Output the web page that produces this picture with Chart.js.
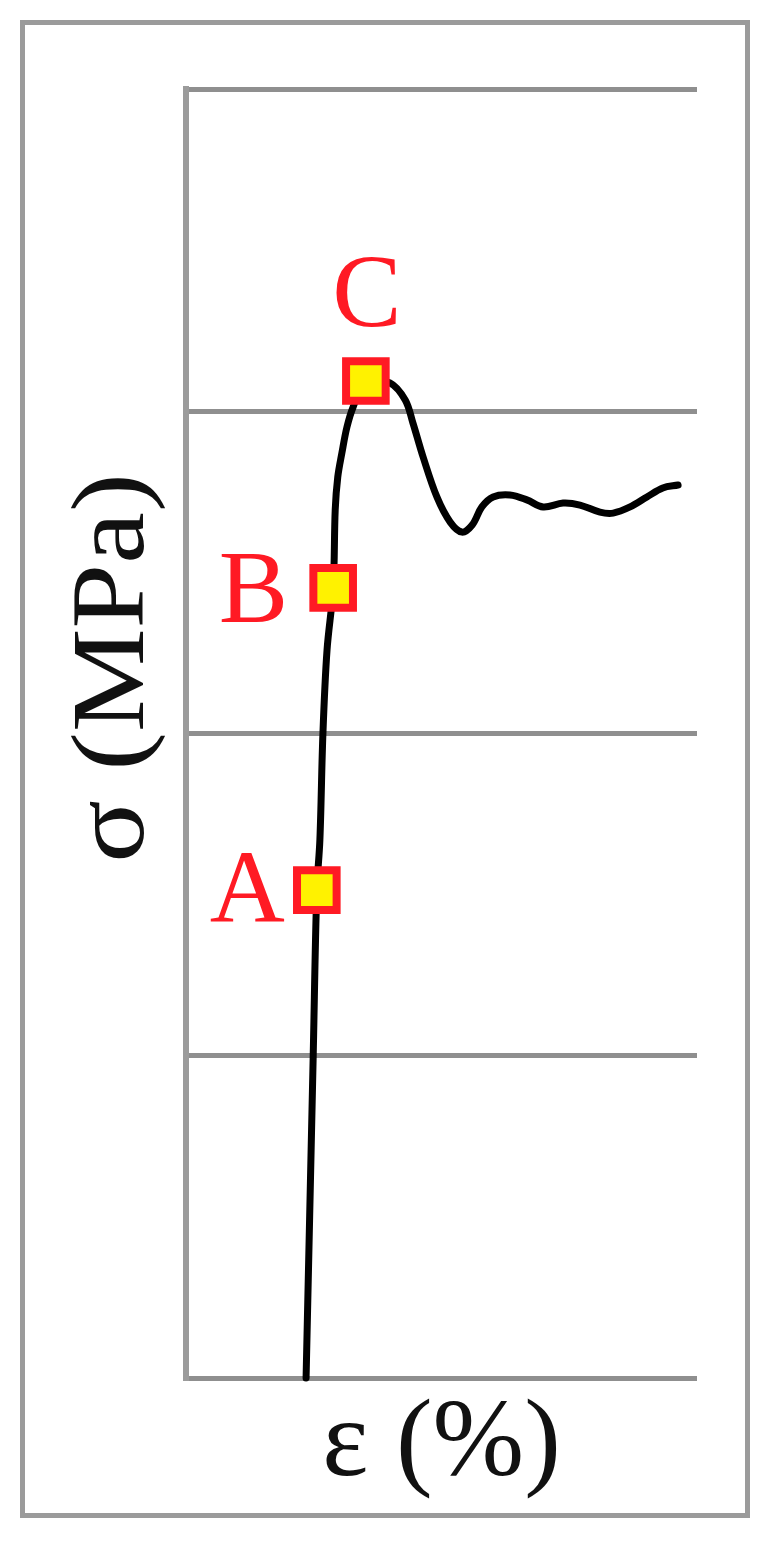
<!DOCTYPE html>
<html>
<head>
<meta charset="utf-8">
<title>Stress-strain curve</title>
<script src="https://cdn.jsdelivr.net/npm/chart.js@4/dist/chart.umd.min.js"></script>
<style>
  body { margin: 0; background: #ffffff; }
  #wrap { position: relative; width: 772px; height: 1550px; }
  #frame {
    position: absolute; left: 20px; top: 20px; width: 730px; height: 1498px;
    box-sizing: border-box; border: 5px solid #9b9b9b;
  }
  #curveChart { position: absolute; left: 0; top: 0; }
</style>
</head>
<body>
<div id="wrap">
  <div id="frame"></div>
  <canvas id="curveChart" width="772" height="1550"></canvas>
</div>
<script>
// strain (arbitrary units) and stress (MPa)
var strainValues = [
  2.35, 2.49, 2.56, 2.62, 2.68, 2.76, 2.88, 2.92, 2.97, 3.05, 3.15, 3.27, 3.52,
  3.99, 4.29, 4.44, 4.64, 4.91, 5.17, 5.40, 5.60, 5.79, 6.01, 6.34, 6.67, 6.99,
  7.38, 7.71, 8.10, 8.36, 8.69, 9.02, 9.33, 9.63
];
var stressValues = [
  0, 100.5, 151.4, 167.0, 200.2, 225.9, 245.2, 269.4, 279.6, 287.0, 295.1, 301.3, 309.4,
  308.8, 303.5, 296.4, 285.8, 273.4, 265.6, 262.5, 264.7, 270.3, 273.4, 274.0, 272.5, 270.3,
  271.5, 270.9, 268.7, 268.4, 270.3, 273.4, 276.2, 277.1
];

// the three marked points A, B, C
var markerNames = ["A", "B", "C"];
var markerStrain = [2.56, 2.88, 3.52];
var markerStress = [151.4, 245.2, 309.4];

// axis captions
var xCaption = "\u03b5 (%)";
var yCaption = "\u03c3 (MPa)";

var stressTicks = [0, 100, 200, 300, 400];

var serif = '"Liberation Serif", "DejaVu Serif", serif';

var curvePoints = strainValues.map(function (x, i) {
  return { x: x, y: stressValues[i] };
});
var markerPoints = markerStrain.map(function (x, i) {
  return { x: x, y: markerStress[i] };
});

// draws the A/B/C letters next to the markers and both axis captions
var annotatePlugin = {
  id: "annotate",
  afterDatasetsDraw: function (chart, args, opts) {
    var ctx = chart.ctx;
    var area = chart.chartArea;
    var meta = chart.getDatasetMeta(0);

    ctx.save();
    ctx.fillStyle = opts.labelColor;
    ctx.font = opts.labelSize + "px " + serif;
    ctx.textBaseline = "alphabetic";
    meta.data.forEach(function (pt, i) {
      var off = opts.offsets[i];
      ctx.textAlign = off.align;
      ctx.fillText(markerNames[i], pt.x + off.dx, pt.y + off.dy);
    });
    ctx.restore();

    // x caption under the plot
    ctx.save();
    ctx.fillStyle = "#111111";
    ctx.font = "110px " + serif;
    ctx.textAlign = "center";
    ctx.textBaseline = "alphabetic";
    ctx.fillText(xCaption, (area.left + area.right) / 2, area.bottom + 97);
    ctx.restore();

    // y caption, rotated, a bit above the middle of the axis
    ctx.save();
    ctx.fillStyle = "#111111";
    ctx.font = "104px " + serif;
    ctx.translate(area.left - 43, area.top + 579);
    ctx.rotate(-Math.PI / 2);
    ctx.scale(1.12, 1);
    ctx.textAlign = "center";
    ctx.textBaseline = "alphabetic";
    ctx.fillText(yCaption, 0, 0);
    ctx.restore();
  },
};

var ctx = document.getElementById("curveChart").getContext("2d");

new Chart(ctx, {
  type: "line",
  data: {
    datasets: [
      {
        label: "points",
        data: markerPoints,
        showLine: false,
        pointStyle: "rect",
        pointRadius: 28,
        pointHoverRadius: 28,
        pointBackgroundColor: "#fff200",
        pointBorderColor: "#ff1a24",
        pointBorderWidth: 8,
        clip: false,
        order: 0,
      },
      {
        label: "curve",
        data: curvePoints,
        borderColor: "#000000",
        borderWidth: 7,
        borderCapStyle: "round",
        borderJoinStyle: "round",
        pointRadius: 0,
        fill: false,
        tension: 0.35,
        clip: false,
        order: 1,
      },
    ],
  },
  options: {
    responsive: false,
    animation: false,
    layout: {
      padding: { left: 186, right: 75, top: 89, bottom: 172 },
    },
    scales: {
      x: {
        type: "linear",
        display: false,
        min: 0,
        max: 10,
      },
      y: {
        type: "linear",
        min: 0,
        max: 400,
        afterBuildTicks: function (scale) {
          scale.ticks = stressTicks.map(function (v) {
            return { value: v };
          });
        },
        ticks: { display: false },
        grid: {
          color: "#8f8f8f",
          lineWidth: 5,
          drawTicks: false,
        },
        border: { display: true, color: "#9b9b9b", width: 6 },
      },
    },
    plugins: {
      legend: { display: false },
      tooltip: { enabled: false },
      annotate: {
        labelColor: "#ff1a24",
        labelSize: 104,
        offsets: [
          { dx: -32, dy: 32, align: "right" },
          { dx: -45, dy: 34, align: "right" },
          { dx: 1, dy: -55, align: "center" },
        ],
      },
    },
  },
  plugins: [annotatePlugin],
});
</script>
</body>
</html>
